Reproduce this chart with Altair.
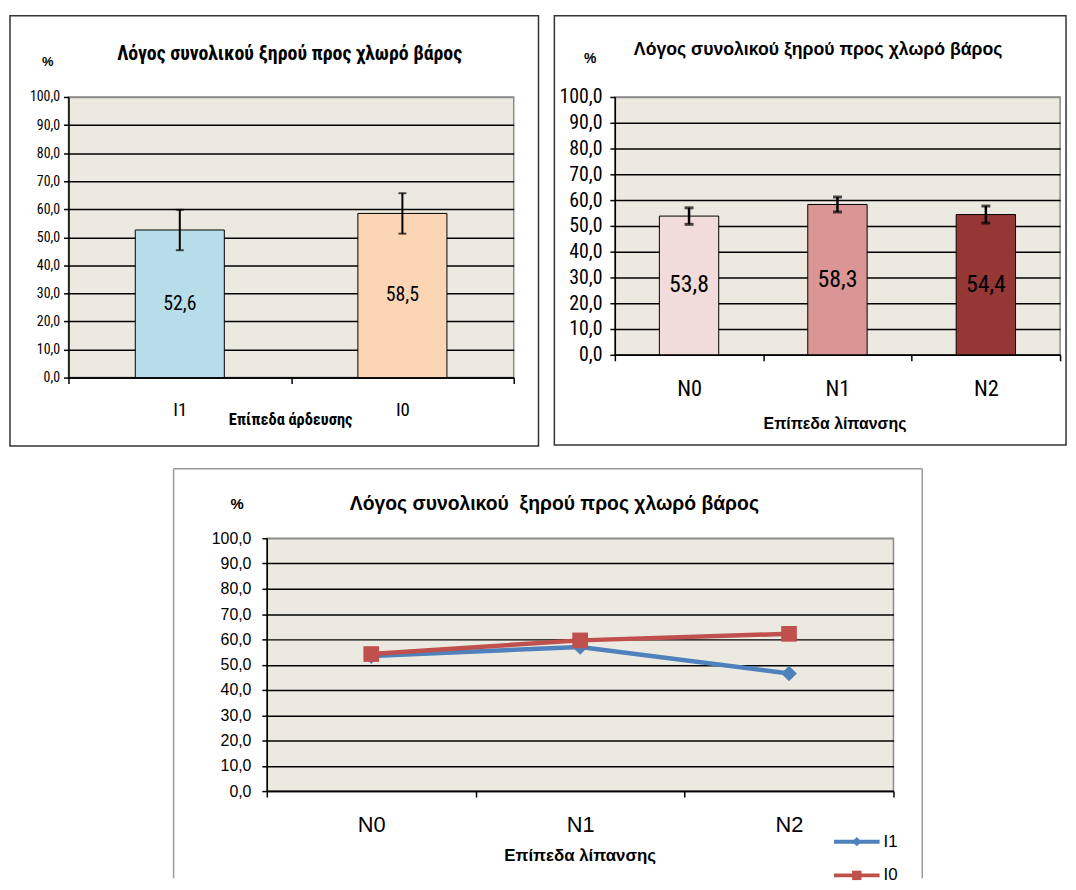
import altair as alt
import pandas as pd

# ---------------- data ----------------
title_text = "Λόγος συνολικού ξηρού προς χλωρό βάρος"
title_text_wide = "Λόγος συνολικού\u00a0 ξηρού προς χλωρό βάρος"
y_ticks = [0, 10, 20, 30, 40, 50, 60, 70, 80, 90, 100]

irrig_levels = ["I1", "I0"]
irrig_means = [52.6, 58.5]
irrig_err = [7.2, 7.2]
irrig_colors = ["#B7DEE8", "#FCD5B5"]
irrig_xtitle = "Επίπεδα άρδευσης"

fert_levels = ["N0", "N1", "N2"]
fert_means = [53.8, 58.3, 54.4]
fert_err = [3.2, 2.9, 3.3]
fert_colors = ["#F2DCDB", "#D99694", "#953735"]
fert_xtitle = "Επίπεδα λίπανσης"

series_names = ["I1", "I0"]
series_colors = ["#4F81BD", "#C0504D"]
series_shapes = ["diamond", "square"]
line_i1 = [53.4, 57.0, 46.5]
line_i0 = [54.2, 59.6, 62.2]

FONT_N = "Roboto Condensed, Liberation Sans Narrow, Arial Narrow, DejaVu Sans Condensed, sans-serif"
FONT = "Liberation Sans, Arial, sans-serif"
LABEL_EXPR = "replace(format(datum.value, '.1f'), '.', ',')"
GRID_COLOR = {"condition": {"test": "datum.value >= 100", "value": "#8c8c8c"}, "value": "#000000"}
NO_VIEW = alt.ViewBackground(fill="transparent", stroke="transparent", strokeWidth=0)

one = alt.Data(values=[{}])


def y_axis(font, size, pad):
    return alt.Axis(values=y_ticks, labelExpr=LABEL_EXPR, title=None, grid=True,
                    gridColor=GRID_COLOR, gridWidth=1.5, domainColor="#000000", domainWidth=1.5,
                    tickColor="#000000", tickSize=5, tickWidth=1.5, labelFont=font,
                    labelFontSize=size, labelColor="#000000", labelPadding=pad,
                    labelFlush=False, labelOverlap=False)


def x_axis(font, size, pad):
    return alt.Axis(title=None, tickBand="extent", labelAngle=0, grid=False,
                    domainColor="#000000", domainWidth=1.5, tickColor="#000000",
                    tickSize=6, tickWidth=1.5, labelFont=font, labelFontSize=size,
                    labelColor="#000000", labelPadding=pad)


def deco_text(text, x, y, size, font, bold=True):
    return alt.Chart(one).mark_text(
        text=text, font=font, fontSize=size, fontWeight="bold" if bold else "normal",
        align="center", baseline="middle", color="#000000"
    ).encode(x=alt.value(x), y=alt.value(y))


def frame(x1, x2, y1, y2, color):
    return alt.Chart(one).mark_rect(fill="transparent", stroke=color, strokeWidth=1.5).encode(
        x=alt.value(x1), x2=alt.value(x2), y=alt.value(y1), y2=alt.value(y2))


def bar_panel(field, levels, means, errs, colors, yfont, ysize, ypad, xfont, xsize, xpad,
              valsize, cap, capw, rulew):
    df = pd.DataFrame({field: levels, "mean": means, "err": errs})
    base = alt.Chart(df).transform_calculate(
        lo="datum.mean - datum.err", hi="datum.mean + datum.err",
        half="datum.mean / 2", lab="replace(format(datum.mean, '.1f'), '.', ',')")
    ysc = alt.Scale(domain=[0, 100], nice=False)
    yax = y_axis(yfont, ysize, ypad)
    xenc = alt.X(f"{field}:N", sort=levels, scale=alt.Scale(paddingInner=0, paddingOuter=0),
                 axis=x_axis(xfont, xsize, xpad))
    bars = base.mark_bar(width=alt.RelativeBandSize(0.4), stroke="#000000", strokeWidth=1).encode(
        x=xenc, y=alt.Y("mean:Q", scale=ysc, axis=yax),
        color=alt.Color(f"{field}:N", scale=alt.Scale(domain=levels, range=colors), legend=None))
    rule = base.mark_rule(color="#000000", strokeWidth=rulew).encode(
        x=xenc, y=alt.Y("lo:Q", scale=ysc, axis=yax), y2="hi:Q")
    lo = base.mark_tick(color="#000000", thickness=capw, size=cap).encode(
        x=xenc, y=alt.Y("lo:Q", scale=ysc, axis=yax))
    hi = base.mark_tick(color="#000000", thickness=capw, size=cap).encode(
        x=xenc, y=alt.Y("hi:Q", scale=ysc, axis=yax))
    vals = base.mark_text(font=FONT_N, fontSize=valsize, color="#000000").encode(
        x=xenc, y=alt.Y("half:Q", scale=ysc, axis=yax), text="lab:N")
    return [bars, rule, lo, hi, vals]


# ---------------- panel 1 ----------------
W1, H1 = 449, 283
p1_layers = [frame(-59, 474, -82, 352, "#333333")] + bar_panel(
    "irrig", irrig_levels, irrig_means, irrig_err, irrig_colors,
    FONT_N, 14, 4, FONT_N, 19, 17, 20, 8, 2, 2) + [
    deco_text(title_text, 223, -43, 20, FONT_N),
    deco_text("%", -21, -35, 13, FONT),
    deco_text(irrig_xtitle, 224, 326, 16.5, FONT_N),
]
p1 = alt.layer(*p1_layers).properties(width=W1, height=H1)

# ---------------- panel 2 ----------------
W2, H2 = 449, 260
p2_layers = [frame(-61, 455, -82, 351, "#333333")] + bar_panel(
    "fert", fert_levels, fert_means, fert_err, fert_colors,
    FONT_N, 20, 8, FONT_N, 22.5, 17, 24, 9, 3, 2.5) + [
    deco_text(title_text, 205, -47, 17.8, FONT),
    deco_text("%", -25, -38, 14, FONT),
    deco_text(fert_xtitle, 222, 330, 16, FONT),
]
p2 = alt.layer(*p2_layers).properties(width=W2, height=H2)

# ---------------- panel 3 ----------------
W3, H3 = 632, 255
df3 = pd.DataFrame({
    "level": fert_levels * 2,
    "series": ["I1"] * 3 + ["I0"] * 3,
    "value": line_i1 + line_i0,
})
ysc3 = alt.Scale(domain=[0, 100], nice=False)
yax3 = y_axis(FONT, 16, 11)
x3 = alt.X("level:N", sort=fert_levels, scale=alt.Scale(paddingInner=0, paddingOuter=0),
           axis=x_axis(FONT, 22, 18))
y3 = alt.Y("value:Q", scale=ysc3, axis=yax3)

series_layers = []
for i, s in enumerate(series_names):
    series_layers.append(alt.Chart(df3).transform_filter(alt.datum.series == s)
                         .mark_line(strokeWidth=4.5, color=series_colors[i]).encode(x=x3, y=y3))
for i, s in enumerate(series_names):
    series_layers.append(alt.Chart(df3).transform_filter(alt.datum.series == s)
                         .mark_point(filled=True, size=250, opacity=1, color=series_colors[i],
                                     shape=series_shapes[i]).encode(x=x3, y=y3))

bcol = "#9a9a9a"
b_left = alt.Chart(one).mark_rule(color=bcol, strokeWidth=1.5).encode(
    x=alt.value(-94), y=alt.value(-70), y2=alt.value(343))
b_right = alt.Chart(one).mark_rule(color=bcol, strokeWidth=1.5).encode(
    x=alt.value(661), y=alt.value(-70), y2=alt.value(343))
b_top = alt.Chart(one).mark_rule(color=bcol, strokeWidth=1.5).encode(
    x=alt.value(-94), x2=alt.value(661), y=alt.value(-70))

legend_layers = []
for i, s in enumerate(series_names):
    ly = 306 + 34 * i
    legend_layers.append(alt.Chart(one).mark_rule(color=series_colors[i], strokeWidth=4).encode(
        x=alt.value(572), x2=alt.value(618), y=alt.value(ly)))
    legend_layers.append(alt.Chart(one).mark_point(
        shape=series_shapes[i], filled=True, size=90, opacity=1, color=series_colors[i]).encode(
        x=alt.value(595), y=alt.value(ly)))
    legend_layers.append(alt.Chart(one).mark_text(
        text=s, font=FONT, fontSize=17, align="left", baseline="middle", color="#000000").encode(
        x=alt.value(622), y=alt.value(ly)))

p3 = alt.layer(
    b_left, b_right, b_top, *series_layers, *legend_layers,
    deco_text(title_text_wide, 290, -34, 19.5, FONT),
    deco_text("%", -30, -34, 15, FONT),
    deco_text(fert_xtitle, 316, 321, 17, FONT),
).properties(width=W3, height=H3)

# invisible spacer view that shifts the bottom panel to the right
spacer = alt.Chart(one).mark_point(opacity=0).encode(
    x=alt.value(50), y=alt.value(5)).properties(width=104, height=10, view=NO_VIEW)

top = alt.hconcat(p1, p2, spacing=12).resolve_scale(color="independent")
bottom = alt.hconcat(spacer, p3, spacing=0)
chart = alt.vconcat(top, bottom, spacing=19).configure(
    padding={"left": 0, "top": 2, "right": 0, "bottom": 0}
).configure_view(fill="#ECEAE0", stroke="#8c8c8c", strokeWidth=1.5)

chart.save("out.html", embed_options={"renderer": "svg", "actions": False})
